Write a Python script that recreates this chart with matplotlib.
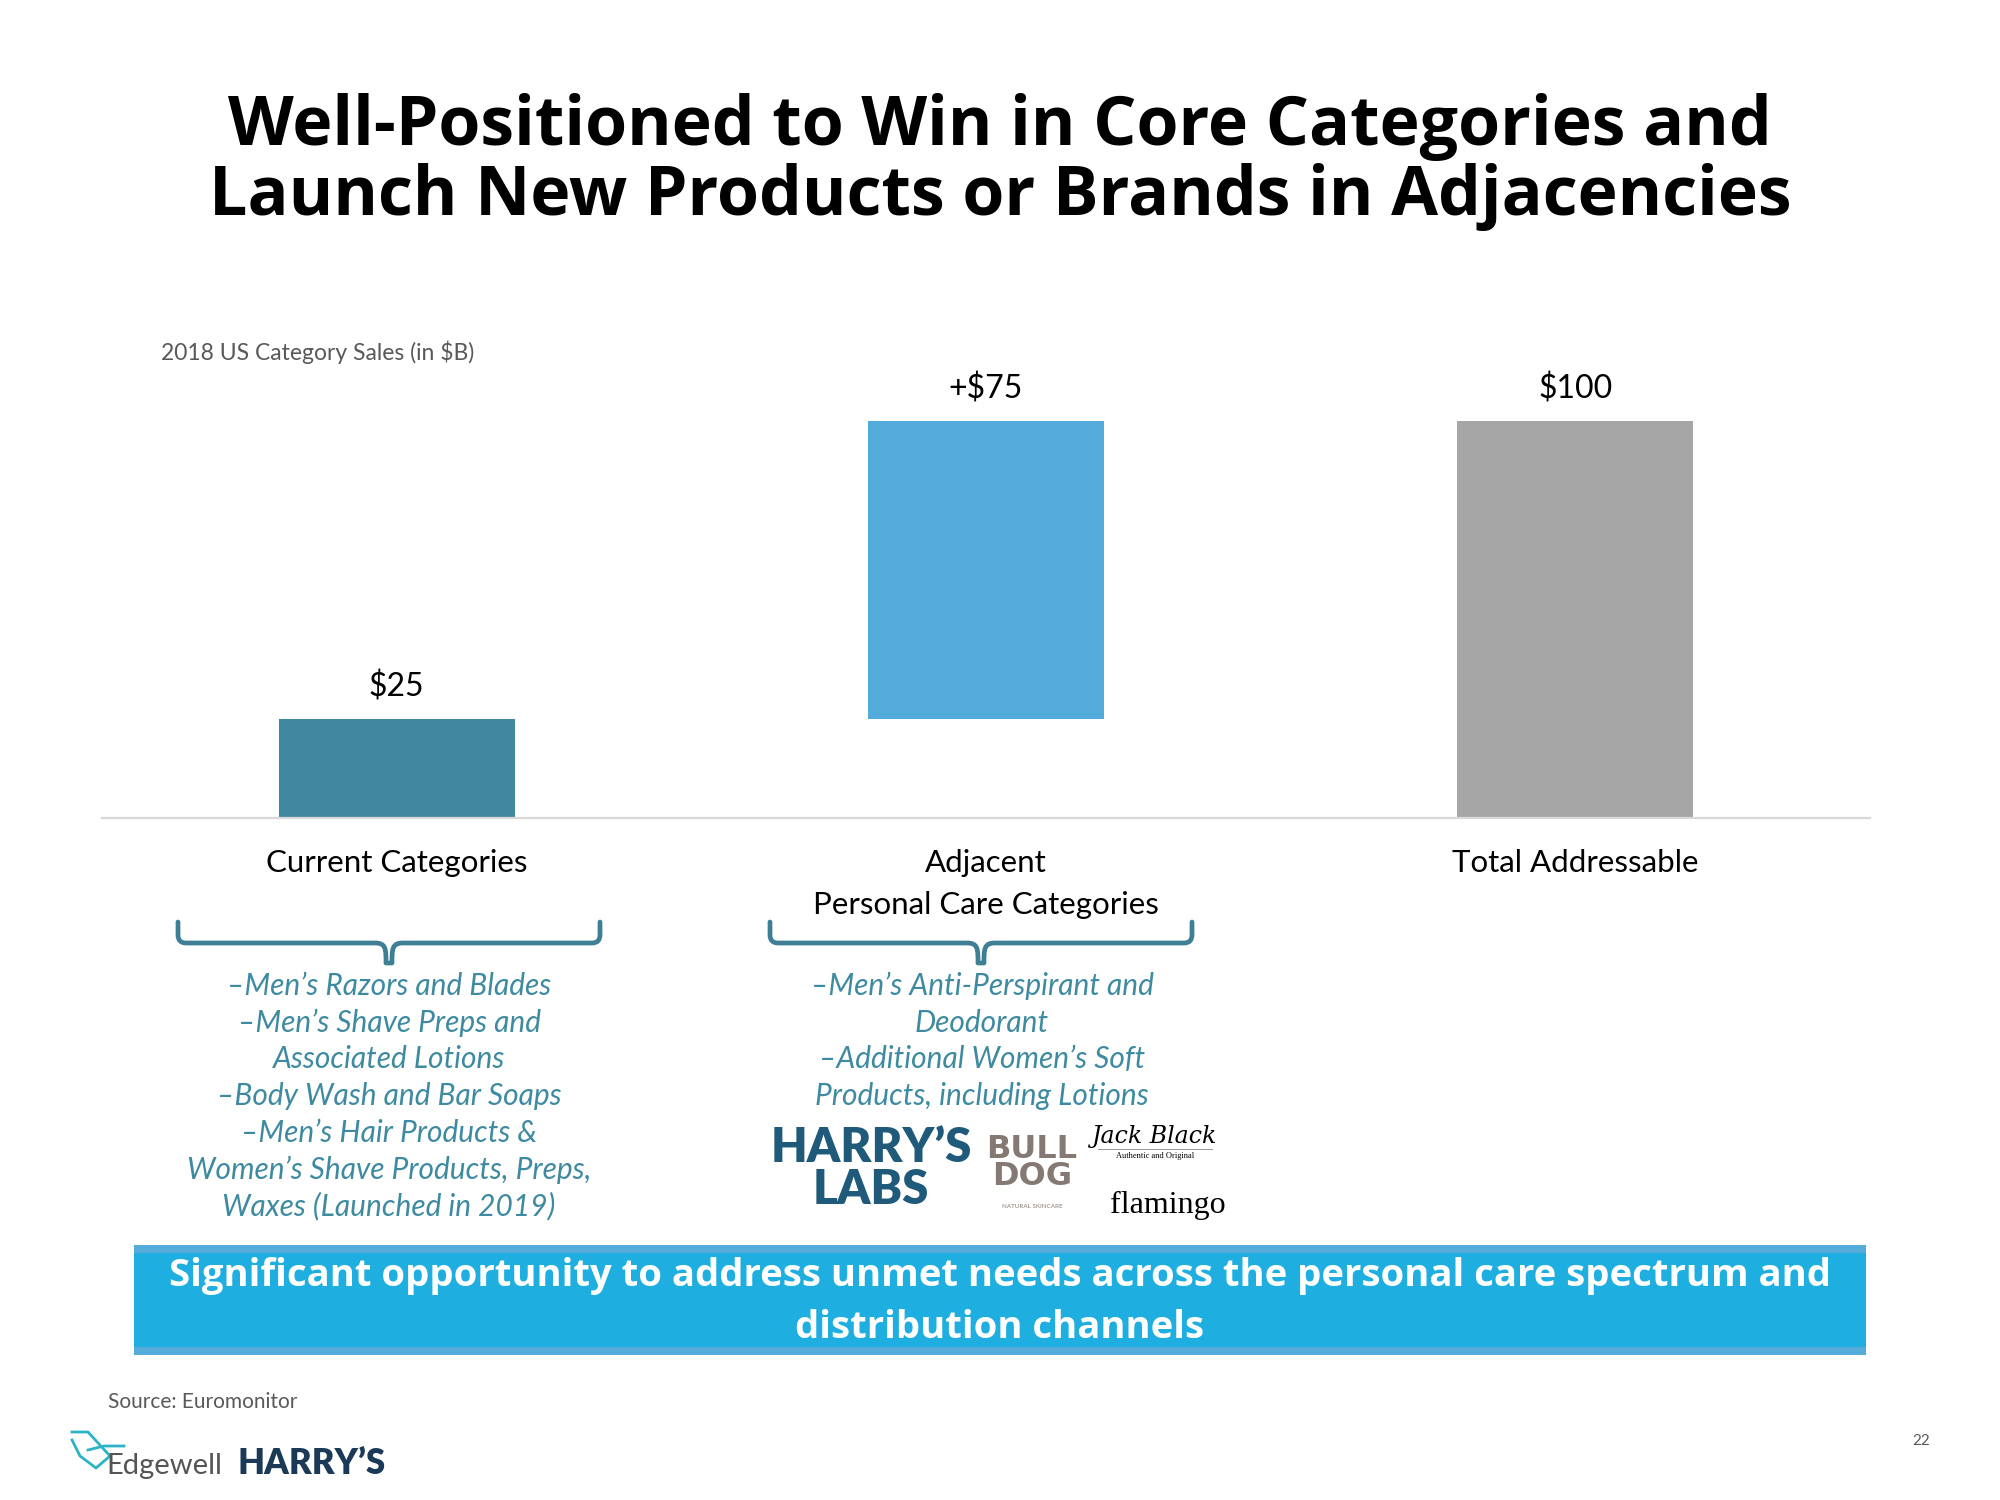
import matplotlib.pyplot as plt
from matplotlib.path import Path
from matplotlib.patches import PathPatch, Rectangle

# data
categories = ['Current Categories', 'Adjacent\nPersonal Care Categories', 'Total Addressable']
bar_bottoms = [0, 25, 0]
bar_values = [25, 75, 100]
bar_labels = ['$25', '+$75', '$100']
bar_colors = ['#40889F', '#52ABDB', '#A6A6A6']

current_items = ['\u2013Men\u2019s Razors and Blades', '\u2013Men\u2019s Shave Preps and', 'Associated Lotions',
                 '\u2013Body Wash and Bar Soaps', '\u2013Men\u2019s Hair Products &',
                 'Women\u2019s Shave Products, Preps,', 'Waxes (Launched in 2019)']
adjacent_items = ['\u2013Men\u2019s Anti-Perspirant and', 'Deodorant',
                  '\u2013Additional Women\u2019s Soft', 'Products, including Lotions']

title = 'Well-Positioned to Win in Core Categories and\nLaunch New Products or Brands in Adjacencies'
banner = 'Significant opportunity to address unmet needs across the personal care spectrum and\ndistribution channels'

plt.rcParams['font.family'] = ['Lato', 'DejaVu Sans']

fig = plt.figure(figsize=(20, 15), dpi=100)

# overlay in pixel coordinates for slide decorations
ov = fig.add_axes([0, 0, 1, 1])
ov.set_xlim(0, 2000)
ov.set_ylim(1500, 0)
ov.axis('off')

ov.text(1000, 162, title, ha='center', va='center', fontsize=49, fontweight='bold',
        color='black', linespacing=1.02, family='Open Sans')
ov.text(161, 352, '2018 US Category Sales (in $B)', ha='left', va='center', fontsize=16.5, color='#595959')

# main chart
ax = fig.add_axes([0.051, 0.4547, 0.884, 0.292])
x = range(len(categories))
ax.bar(x, bar_values, bottom=bar_bottoms, width=0.4, color=bar_colors)
for i in x:
    top = bar_bottoms[i] + bar_values[i]
    ax.text(i, top + 4, bar_labels[i], ha='center', va='bottom', fontsize=23, color='black')
ax.set_xlim(-0.5, 2.5)
ax.set_ylim(0, 110.3)
ax.set_xticks(list(x), categories, fontsize=22.5, color='black', linespacing=1.65)
ax.tick_params(axis='x', length=0, pad=22)
ax.set_yticks([])
for s in ['left', 'right', 'top']:
    ax.spines[s].set_visible(False)
ax.spines['bottom'].set_color('#D9D9D9')
ax.spines['bottom'].set_linewidth(1.6)
ax.patch.set_alpha(0)


def brace(x0, x1, ytop, ymid, ytip):
    xc = (x0 + x1) / 2
    r = 8
    verts = [(x0, ytop), (x0, ymid - r), (x0, ymid), (x0 + r, ymid),
             (xc - 14, ymid), (xc - 3, ymid), (xc - 3, ymid + 6), (xc - 3, ytip),
             (xc + 3, ytip), (xc + 3, ymid + 6), (xc + 3, ymid), (xc + 14, ymid),
             (x1 - r, ymid), (x1, ymid), (x1, ymid - r), (x1, ytop)]
    codes = [Path.MOVETO, Path.LINETO, Path.CURVE3, Path.CURVE3,
             Path.LINETO, Path.CURVE4, Path.CURVE4, Path.CURVE4,
             Path.LINETO, Path.CURVE4, Path.CURVE4, Path.CURVE4,
             Path.LINETO, Path.CURVE3, Path.CURVE3, Path.LINETO]
    ov.add_patch(PathPatch(Path(verts, codes), fill=False, edgecolor='#3F7F96', lw=3.4,
                           capstyle='round', joinstyle='round'))


brace(178, 600, 922, 943, 963)
brace(770, 1192, 922, 943, 963)

for k, line in enumerate(current_items):
    ov.text(389, 986 + k * 36.7, line, ha='center', va='center', fontsize=21.5,
            style='italic', color='#3E8AA0')
for k, line in enumerate(adjacent_items):
    ov.text(982, 986 + k * 36.7, line, ha='center', va='center', fontsize=21.5,
            style='italic', color='#3E8AA0')

# brand logos, drawn as text
ov.text(871, 1169, 'HARRY\u2019S\nLABS', ha='center', va='center', fontsize=34, fontweight='heavy',
        color='#1F5A7A', linespacing=0.95)
ov.text(1032, 1163, 'BULL\nDOG', ha='center', va='center', fontsize=23, fontweight='heavy',
        color='#857A73', linespacing=0.85, family='Liberation Sans Narrow')
ov.text(1032, 1206, 'NATURAL SKINCARE', ha='center', va='center', fontsize=4.5, color='#857A73')
ov.text(1155, 1136, 'Jack Black', ha='center', va='center', fontsize=17, style='italic',
        color='black', family='DejaVu Serif')
ov.text(1155, 1156, 'Authentic and Original', ha='center', va='center', fontsize=6,
        color='black', family='Liberation Serif')
ov.plot([1098, 1212], [1149, 1149], color='#888888', lw=0.6)
ov.text(1168, 1205, 'flamingo', ha='center', va='center', fontsize=23,
        color='black', family='Liberation Serif')

# banner
ov.add_patch(Rectangle((134, 1245), 1732, 110, color='#1EAEE0', lw=0))
ov.add_patch(Rectangle((134, 1245), 1732, 8, color='#55ACDC', lw=0))
ov.add_patch(Rectangle((134, 1347), 1732, 8, color='#55ACDC', lw=0))
ov.text(1000, 1302, banner, ha='center', va='center', fontsize=27.5, fontweight='bold',
        color='white', linespacing=1.45, family='Open Sans')

# footer
ov.text(108, 1402, 'Source: Euromonitor', ha='left', va='center', fontsize=15, color='#595959')
ov.plot([72, 88, 110, 96, 80, 72], [1432, 1432, 1456, 1468, 1456, 1440], color='#2BB3C7', lw=2)
ov.plot([88, 104, 124], [1450, 1446, 1446], color='#2BB3C7', lw=2)
ov.text(106, 1466, 'Edgewell', ha='left', va='center', fontsize=21, color='#555555')
ov.text(237, 1463, 'HARRY\u2019S', ha='left', va='center', fontsize=25, fontweight='heavy',
        color='#1B3A57')
ov.text(1921, 1441, '22', ha='center', va='center', fontsize=11, color='#595959')

fig.savefig('out.png', dpi=100, facecolor='white')
